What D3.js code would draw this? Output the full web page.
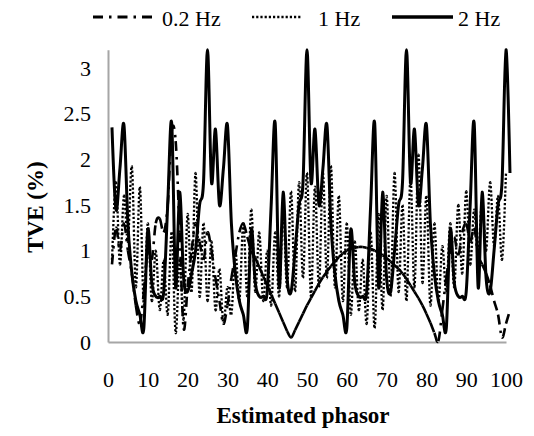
<!DOCTYPE html>
<meta charset="utf-8">
<script src="https://d3js.org/d3.v7.min.js"></script>
<style>
  body { margin: 0; background: #fff; }
</style>
<div id="chart"></div>
<script>
// TVE (%) per estimated phasor (index 1..N)
var yTicks = [0, 0.5, 1, 1.5, 2, 2.5, 3];
var xTicks = [0, 10, 20, 30, 40, 50, 60, 70, 80, 90, 100];
var seriesNames = ["0.2 Hz", "1 Hz", "2 Hz"];

var tve02 = [0.85, 1.25, 1.0, 1.3, 1.0, 0.75, 0.4, 0.2, 0.55, 1.0,
  0.9, 1.3, 1.35, 1.2, 1.5, 2.3, 2.2, 1.2, 0.15, 0.6,
  1.0, 1.3, 1.1, 0.9, 1.2, 1.0, 0.7, 0.45, 0.2, 0.4,
  0.7, 0.95, 1.2, 1.3, 1.15, 1.0, 0.92, 0.82, 0.72, 0.62,
  0.52, 0.42, 0.32, 0.22, 0.12, 0.05, 0.13, 0.22, 0.31, 0.4,
  0.48, 0.56, 0.64, 0.71, 0.77, 0.83, 0.88, 0.93, 0.97, 1.0,
  1.02, 1.03, 1.04, 1.04, 1.03, 1.02, 1.0, 0.98, 0.95, 0.92,
  0.88, 0.84, 0.8, 0.75, 0.69, 0.62, 0.55, 0.48, 0.4, 0.31,
  0.21, 0.1, 0.01, 0.35, 0.7, 1.0, 1.15, 0.95, 1.2, 1.3,
  1.1, 1.25, 0.95, 0.85, 0.75, 0.62, 0.45, 0.3, 0.05, 0.2, 0.35];

var tve1 = [0.9, 1.75, 0.85, 1.6, 1.1, 1.92, 0.6, 1.7, 0.4, 1.3,
  0.45, 1.0, 0.35, 0.9, 0.3, 1.2, 0.1, 0.9, 0.25, 1.4,
  0.55, 1.85, 0.5, 1.3, 0.45, 1.1, 0.35, 0.8, 0.2, 0.6,
  0.3, 1.0, 0.45, 1.3, 0.5, 1.45, 0.55, 1.2, 0.45, 1.0,
  0.4, 1.2, 0.5, 1.45, 0.6, 1.65, 0.55, 1.75, 0.7, 1.85,
  0.5, 1.7, 0.6, 1.85, 0.7, 1.93, 0.6, 1.6, 0.45, 1.3,
  0.3, 1.1, 0.35, 0.9, 0.2, 1.2, 0.15, 1.4, 0.35, 1.6,
  0.5, 1.85, 0.55, 1.5, 0.45, 1.8, 0.6, 2.05, 0.65, 1.6,
  0.4, 1.3, 0.45, 1.05, 0.55, 1.3, 0.6, 1.5, 0.75, 1.65,
  0.85, 1.45, 0.95, 1.55, 1.0, 1.75, 1.05, 1.6, 0.9, 1.85];

var tve2 = [2.35, 1.45, 1.9, 2.38, 1.3, 0.75, 0.45, 0.3, 0.15, 1.23,
  0.65, 0.5, 0.5, 0.55, 1.5, 2.4, 0.6, 1.64, 0.7, 0.55,
  0.75, 1.0, 1.5, 1.75, 3.2,
  1.75, 2.33, 1.5, 1.9, 2.38, 1.3, 0.75, 0.45, 0.3, 0.15,
  1.23, 0.65, 0.5, 0.5, 0.55, 1.5, 2.4, 0.6, 1.64, 0.7,
  0.55, 1.0, 1.5, 1.75, 3.2,
  1.75, 2.33, 1.5, 1.9, 2.38, 1.3, 0.75, 0.45, 0.3, 0.15,
  1.23, 0.65, 0.5, 0.5, 0.55, 1.5, 2.4, 0.6, 1.64, 0.7,
  0.55, 1.0, 1.5, 1.75, 3.2,
  1.75, 2.33, 1.5, 1.9, 2.38, 1.3, 0.75, 0.45, 0.3, 0.15,
  1.23, 0.65, 0.5, 0.5, 0.55, 1.5, 2.4, 0.6, 1.64, 0.7,
  0.55, 1.0, 1.5, 1.75, 3.2, 1.85];

var W = 534, H = 436;
var FONT = "'Liberation Serif', 'DejaVu Serif', 'Times New Roman', serif";

var svg = d3.select("#chart").append("svg")
    .attr("width", W)
    .attr("height", H);

var x = d3.scaleLinear().domain([0, 100]).range([108, 506]);
var y = d3.scaleLinear().domain([0, 3.2]).range([342, 342 - 3.2 * 91.33]);

// axes
var gx = svg.append("g")
    .attr("transform", "translate(0," + y(0) + ")")
    .call(d3.axisBottom(x).tickValues(xTicks).tickSize(0).tickPadding(29));
var gy = svg.append("g")
    .attr("transform", "translate(" + x(0) + ",0)")
    .call(d3.axisLeft(y).tickValues(yTicks).tickSize(0).tickPadding(17)
      .tickFormat(function(d) { return d; }));

[gx, gy].forEach(function(g) {
  g.attr("font-family", null).attr("font-size", null);
  g.select(".domain").attr("stroke", "#a6a6a6").attr("stroke-width", 2);
  g.selectAll("text")
    .style("font-family", FONT)
    .style("font-size", "22px")
    .attr("fill", "#000");
});

// smoothed line; dashed series restart their pattern on each segment,
// like the original export does
var line = d3.line()
    .x(function(d, i) { return x(i + 1); })
    .y(function(d) { return y(d); })
    .curve(d3.curveCatmullRom.alpha(0));

function segments(data) {
  var pts = data.map(function(d, i) { return [x(i + 1), y(d)]; });
  var out = [];
  for (var i = 0; i < pts.length - 1; i++) {
    var p0 = pts[Math.max(i - 1, 0)], p1 = pts[i], p2 = pts[i + 1],
        p3 = pts[Math.min(i + 2, pts.length - 1)];
    var p = d3.path();
    p.moveTo(p1[0], p1[1]);
    p.bezierCurveTo(p1[0] + (p2[0] - p0[0]) / 6, p1[1] + (p2[1] - p0[1]) / 6,
                    p2[0] - (p3[0] - p1[0]) / 6, p2[1] - (p3[1] - p1[1]) / 6,
                    p2[0], p2[1]);
    out.push(p.toString());
  }
  return out;
}

var styles = [
  { data: tve02, dash: "10,6,2.5,6", width: 2.6 },
  { data: tve1, dash: "2.2,2", width: 2.3 },
  { data: tve2, dash: null, width: 3 }
];

styles.forEach(function(s) {
  if (s.dash) {
    svg.append("g").selectAll("path")
      .data(segments(s.data))
      .enter().append("path")
      .attr("fill", "none")
      .attr("stroke", "#000")
      .attr("stroke-width", s.width)
      .attr("stroke-dasharray", s.dash)
      .attr("d", function(d) { return d; });
  } else {
    svg.append("path")
      .datum(s.data)
      .attr("fill", "none")
      .attr("stroke", "#000")
      .attr("stroke-width", s.width)
      .attr("d", line);
  }
});

// legend
var legendItems = [
  { x0: 93, x1: 157, tx: 162 },
  { x0: 252, x1: 302, tx: 318 },
  { x0: 392, x1: 453, tx: 458 }
];
legendItems.forEach(function(l, i) {
  svg.append("line")
    .attr("x1", l.x0).attr("x2", l.x1)
    .attr("y1", 17).attr("y2", 17)
    .attr("stroke", "#000")
    .attr("stroke-width", styles[i].width + 0.4)
    .attr("stroke-dasharray", styles[i].dash);
  svg.append("text")
    .attr("x", l.tx).attr("y", 26)
    .style("font-family", FONT)
    .style("font-size", "22px")
    .text(seriesNames[i]);
});

// axis titles
svg.append("text")
  .attr("text-anchor", "middle")
  .attr("x", 303).attr("y", 423)
  .style("font-family", FONT)
  .style("font-size", "23px")
  .style("font-weight", "bold")
  .text("Estimated phasor");

svg.append("text")
  .attr("text-anchor", "middle")
  .attr("transform", "translate(43,207) rotate(-90)")
  .style("font-family", FONT)
  .style("font-size", "23px")
  .style("font-weight", "bold")
  .text("TVE (%)");
</script>
